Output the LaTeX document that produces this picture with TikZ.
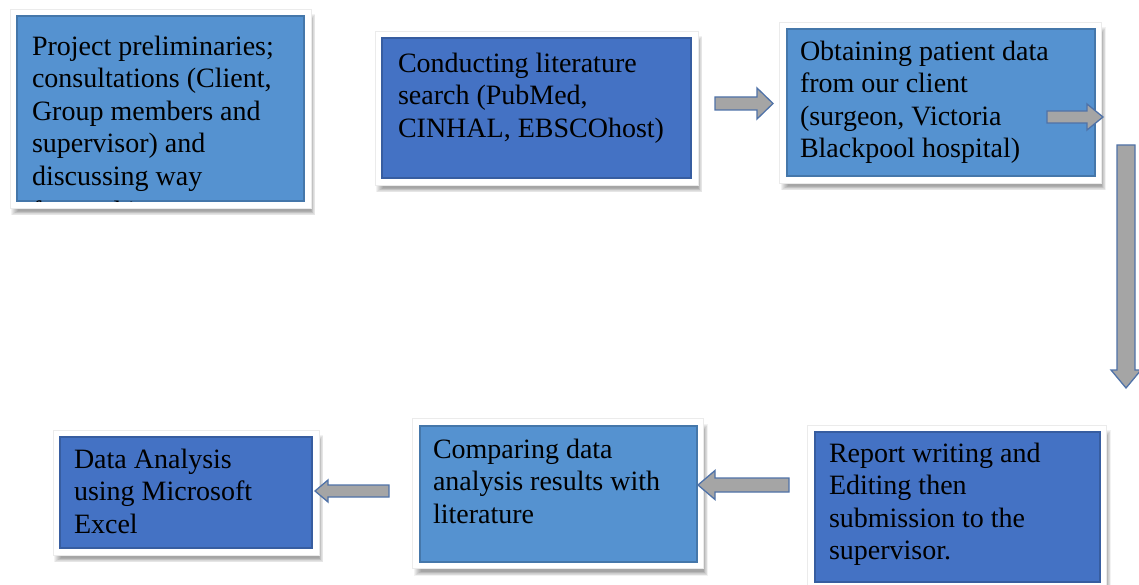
\documentclass[tikz,border=0pt]{standalone}
\usepackage{fontspec}
\setmainfont{Liberation Serif}
\usetikzlibrary{calc}
\definecolor{lightblue}{HTML}{5592D0}
\definecolor{darkblue}{HTML}{4472C4}
\definecolor{arrowgray}{HTML}{A5A5A5}
\definecolor{arrowline}{HTML}{4F72A8}
\tikzset{
  boxbase/.style={rectangle, draw=white, line width=6pt, inner sep=0pt, outer sep=0pt,
    anchor=north west},
  lightbox/.style={boxbase, fill=lightblue},
  darkbox/.style={boxbase, fill=darkblue},
  bevel/.style={draw=black, draw opacity=0.18, line width=2pt},
  rim/.style={draw=black!8, line width=0.5pt},
  softshadow/.style={fill=black, fill opacity=0.05},
  txt/.style={anchor=north west, inner sep=0pt, outer sep=0pt, align=left,
    font=\fontsize{28}{32.5}\selectfont, text=black},
  barrow/.style={fill=arrowgray, draw=arrowline, line width=1.3pt, line join=miter},
}
\newcommand\myblockarrow[6]{% name, tail, tip, shaft half, head half, head length
  \coordinate (#1-h) at ($(#3)!#6!(#2)$);
  \draw[barrow] ($(#2)!#4!90:(#3)$) -- ($(#1-h)!#4!90:(#3)$) -- ($(#1-h)!#5!90:(#3)$)
    -- (#3) -- ($(#1-h)!#5!-90:(#3)$) -- ($(#1-h)!#4!-90:(#3)$) -- ($(#2)!#4!-90:(#3)$) -- cycle;
}
\newcommand\myshadow[2]{% nw, se of frame path
  \foreach \i in {0,...,7}{
    \fill[softshadow] ($(#1)+(5-\i,9-\i)$) rectangle ($(#2)+(3+\i*0.6,6+\i*0.6)$);
  }
}
\begin{document}
\begin{tikzpicture}[x=1pt,y=-1pt]
\useasboundingbox (0,0) rectangle (1139,585);
\fill[white] (0,0) rectangle (1139,585);

% shadows
\coordinate (s1a) at (13,12);     \coordinate (s1b) at (308,205);
\coordinate (s2a) at (378,34.5);  \coordinate (s2b) at (695,182);
\coordinate (s3a) at (782.5,25.5);\coordinate (s3b) at (1098.5,180);
\coordinate (s4a) at (56,433);    \coordinate (s4b) at (316,552);
\coordinate (s5a) at (415.5,421.5);\coordinate (s5b) at (700.5,565.5);
\coordinate (s6a) at (810.5,428); \coordinate (s6b) at (1103.5,586);
\myshadow{s1a}{s1b}
\myshadow{s2a}{s2b}
\myshadow{s3a}{s3b}
\myshadow{s4a}{s4b}
\myshadow{s5a}{s5b}
\myshadow{s6a}{s6b}

% boxes
\node[lightbox, minimum width=295, minimum height=193] (b1) at (s1a) {};
\node[darkbox,  minimum width=317, minimum height=147.5] (b2) at (s2a) {};
\node[lightbox, minimum width=316, minimum height=154.5] (b3) at (s3a) {};
\node[darkbox,  minimum width=260, minimum height=119] (b4) at (s4a) {};
\node[lightbox, minimum width=285, minimum height=144] (b5) at (s5a) {};
\node[darkbox,  minimum width=293, minimum height=158] (b6) at (s6a) {};

\foreach \b in {b1,b2,b3,b4,b5,b6}{
  \draw[bevel] ($(\b.north west)+(4,4)$) rectangle ($(\b.south east)+(-4,-4)$);
  \draw[rim] ($(\b.north west)+(-3,-3)$) rectangle ($(\b.south east)+(3,3)$);
}

% texts
\begin{scope}
  \clip ($(b1.north west)+(3,3)$) rectangle ($(b1.south east)+(-3,-3)$);
  \node[txt] (t1) at (32,36) {Project preliminaries;\\consultations (Client,\\Group members and\\supervisor) and\\discussing way\\[2.5pt]forward in};
\end{scope}
\node[txt] (t2) at (398,53) {Conducting literature\\search (PubMed,\\CINHAL, EBSCOhost)};
\node[txt] (t3) at (800,41) {Obtaining patient data\\from our client\\(surgeon, Victoria\\Blackpool hospital)};
\node[txt] (t4) at (74,449) {Data Analysis\\using Microsoft\\Excel};
\node[txt] (t5) at (433,439) {Comparing data\\analysis results with\\literature};
\node[txt] (t6) at (829,443) {Report writing and\\Editing then\\submission to the\\supervisor.};

% arrows
\coordinate (a1s) at (715,103.5);  \coordinate (a1e) at (773,103.5);
\coordinate (a2s) at (1047,117);   \coordinate (a2e) at (1103,117);
\coordinate (a3s) at (1126,145);   \coordinate (a3e) at (1126,388);
\coordinate (a4s) at (389,491);    \coordinate (a4e) at (315,491);
\coordinate (a5s) at (789,485);    \coordinate (a5e) at (698,485);
\myblockarrow{a1}{a1s}{a1e}{6.5pt}{15.5pt}{16pt}
\myblockarrow{a2}{a2s}{a2e}{6pt}{13pt}{16pt}
\myblockarrow{a3}{a3s}{a3e}{9pt}{15pt}{18pt}
\myblockarrow{a4}{a4s}{a4e}{6pt}{11pt}{13pt}
\myblockarrow{a5}{a5s}{a5e}{7pt}{14.5pt}{17pt}
\end{tikzpicture}
\end{document}
